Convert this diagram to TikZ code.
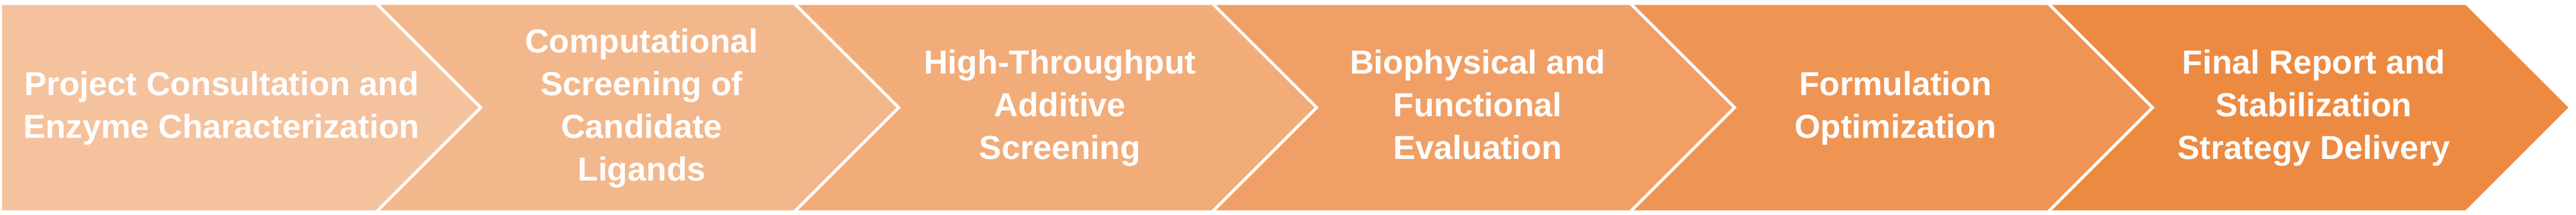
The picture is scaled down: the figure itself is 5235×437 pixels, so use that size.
\documentclass[tikz,border=0pt]{standalone}
\usepackage{fontspec}
\setmainfont{Liberation Sans}
\definecolor{peachlight}{HTML}{F5C29E}
\definecolor{orangedeep}{HTML}{ED8A42}
\tikzset{
  chevron/.style = {draw=white, line width=1.7pt, line join=miter},
  stagelabel/.style = {text=white, align=center, inner sep=0pt,
    font=\fontsize{19.26pt}{24.75pt}\selectfont\bfseries,
    execute at begin node=\strut, execute at end node=\strut}
}

\begin{document}
\begin{tikzpicture}[x=0.01cm, y=0.01cm]
\useasboundingbox (0,0) rectangle (5235,437);
% CHEVRONS
\foreach \k in {0,...,5} {
  \pgfmathsetmacro{\xl}{765+(\k-1)*849.4}
  \pgfmathsetmacro{\xr}{765+\k*849.4}
  \pgfmathtruncatemacro{\mix}{\k*20}
  \ifnum\k=0
    \filldraw[chevron, fill=orangedeep!\mix!peachlight]
      (1,6) -- (1,430) -- (\xr,430) -- (\xr+212,218) -- (\xr,6) -- cycle;
  \else
    \filldraw[chevron, fill=orangedeep!\mix!peachlight]
      (\xl,6) -- (\xl+212,218) -- (\xl,430) -- (\xr,430) -- (\xr+212,218) -- (\xr,6) -- cycle;
  \fi
}
% STAGE LABELS
\node[stagelabel] (consult) at (450,211) {Project Consultation and\\Enzyme Characterization};
\node[stagelabel] (screen) at (1304,211) {Computational\\Screening of\\Candidate\\Ligands};
\node[stagelabel] (additive) at (2154,211) {High-Throughput\\Additive\\Screening};
\node[stagelabel] (biophys) at (3003,211) {Biophysical and\\Functional\\Evaluation};
\node[stagelabel] (formul) at (3852,211) {Formulation\\Optimization};
\node[stagelabel] (report) at (4702,211) {Final Report and\\Stabilization\\Strategy Delivery};
\end{tikzpicture}
\end{document}
